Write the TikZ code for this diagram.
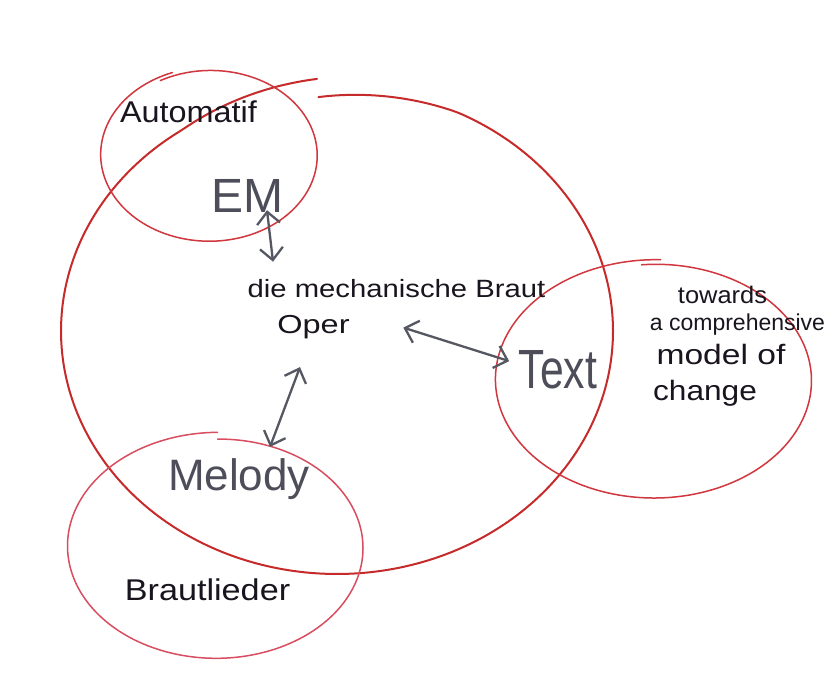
\documentclass[tikz,border=0pt]{standalone}
\usepackage{fontspec}
\setmainfont{Liberation Sans}
\usepackage{graphicx}
\usetikzlibrary{arrows.meta,calc}
\definecolor{bigred}{RGB}{198,42,42}
\definecolor{ringred}{RGB}{208,55,62}
\definecolor{pinkred}{RGB}{216,78,96}
\definecolor{inkblack}{RGB}{25,20,30}
\definecolor{inkgray}{RGB}{78,78,90}
\definecolor{arrowgray}{RGB}{85,87,98}
\begin{document}
\begin{tikzpicture}[x=1pt,y=-1pt,
  lbl/.style={anchor=base, inner sep=0pt, text=inkblack},
  glbl/.style={anchor=base, inner sep=0pt, text=inkgray},
  ring/.style={line width=1.5pt, line join=round, line cap=round},
  bigring/.style={line width=2pt, draw=bigred, line join=round, line cap=round},
  arr/.style={draw=arrowgray, line width=2.3pt, line cap=round,
    {Straight Barb[length=12pt,width=23pt]}-{Straight Barb[length=12pt,width=23pt]}},
  declare function={
    sb(\t)=1-0.035*max(0,1-(\t+94)/30)+0.04*max(0,(\t-236)/30);
  }]
\useasboundingbox (0,0) rectangle (834,684);
\fill[white] (0,0) rectangle (834,684);

% circles
\draw[bigring] plot[domain=-94:266, samples=200, smooth, variable=\t]
  ({337+276*sb(\t)*cos(\t)},{331+243*sb(\t)*sin(\t)});
\draw[ring, draw=ringred] plot[domain=-118:250, samples=120, smooth, variable=\t]
  ({210+108*(0.98+0.04*(\t+118)/368)*cos(\t)},{155+86*(0.98+0.04*(\t+118)/368)*sin(\t)});
\draw[ring, draw=ringred] plot[domain=-95:272, samples=140, smooth, variable=\t]
  ({655+158*(0.98+0.04*(\t+95)/367)*cos(\t)},{380+118*(0.98+0.04*(\t+95)/367)*sin(\t)});
\draw[ring, draw=pinkred] plot[domain=-90:270, samples=140, smooth, variable=\t]
  ({217.5+150*(0.955+0.06*(\t+90)/360)*cos(\t)},{547+113*(0.955+0.06*(\t+90)/360)*sin(\t)});

% labels
\node[lbl] (auto) at (188.5,123) {\fontsize{30}{36}\selectfont\scalebox{1.08}[1]{Automatif}};
\node[glbl] (em) at (247.5,213) {\fontsize{48}{56}\selectfont EM};
\node[lbl] (mech) at (396.5,297) {\fontsize{25}{30}\selectfont\scalebox{1.17}[1]{die mechanische Braut}};
\node[lbl] (oper) at (313.5,333) {\fontsize{26}{30}\selectfont\scalebox{1.25}[1]{Oper}};
\node[glbl] (text) at (558,388) {\fontsize{46}{54}\selectfont\scalebox{0.93}[1.2]{Text}};
\node[glbl] (melody) at (239,490) {\fontsize{44}{52}\selectfont Melody};
\node[lbl] (braut) at (207.5,600) {\fontsize{30}{36}\selectfont\scalebox{1.14}[1]{Brautlieder}};
\node[lbl] (tw1) at (722.5,303) {\fontsize{24}{28}\selectfont\scalebox{1.06}[1]{towards}};
\node[lbl] (tw2) at (737.5,330) {\fontsize{23}{28}\selectfont a comprehensive};
\node[lbl] (tw3) at (721,364) {\fontsize{28}{32}\selectfont\scalebox{1.2}[1]{model of}};
\node[lbl] (tw4) at (705,400) {\fontsize{28}{32}\selectfont\scalebox{1.13}[1]{change}};

% connectors
\draw[arr] ($(em.south)+(19.5,-3)$) -- ($(mech.north)+(-123.5,-17)$);
\draw[arr] ($(oper.east)+(53.5,1)$) -- ($(text.west)+(-9.4,-8.2)$);
\draw[arr] ($(oper.south)+(-13.5,28.5)$) -- ($(melody.north)+(31,-11)$);
\end{tikzpicture}
\end{document}
